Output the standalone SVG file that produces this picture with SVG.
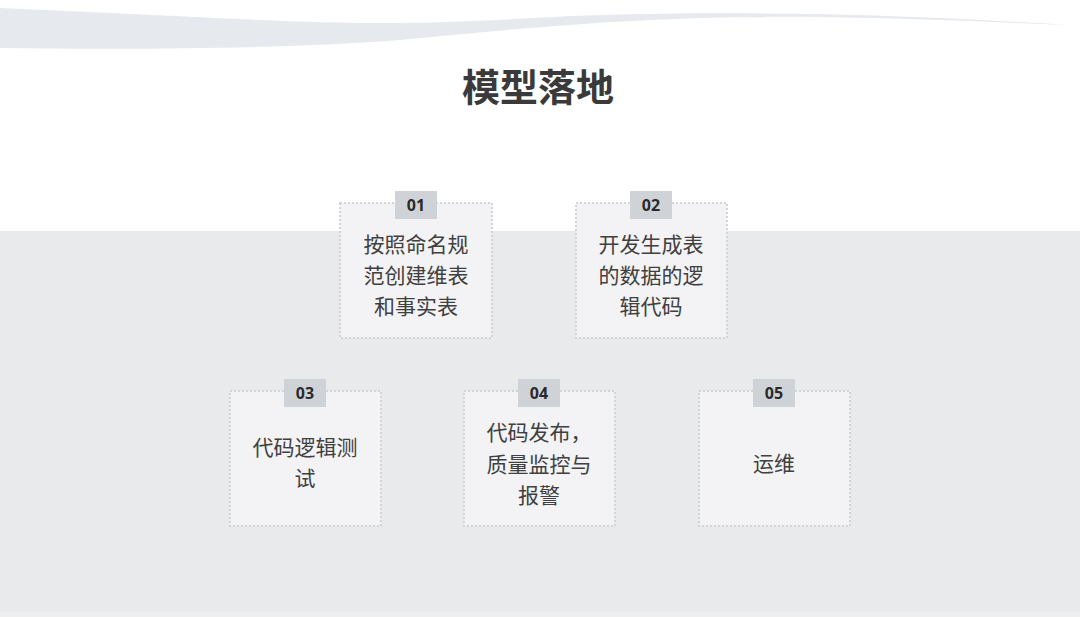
<svg xmlns="http://www.w3.org/2000/svg" width="1080" height="617" viewBox="0 0 1080 617">
<style>
.card{fill:#f3f3f5;stroke:#d2d5d8;stroke-width:2;stroke-dasharray:2 2}
.tag{fill:#cfd3d8}
.num{font-family:"Open Sans","Noto Sans",sans-serif;font-weight:700;font-size:16px;fill:#2a2a2a;text-anchor:middle}
.txt{font-family:"Noto Sans CJK SC","Noto Sans",sans-serif;font-size:21px;fill:#404040;text-anchor:middle}
.title{font-family:"Noto Sans CJK SC","Noto Sans",sans-serif;font-weight:700;font-size:38px;fill:#3a3a3a;text-anchor:middle}
</style>
<rect x="0" y="0" width="1080" height="617" fill="#ffffff"/>
<path d="M0,8 C150,14 300,24 400,23 C480,22 520,18 600,15 C750,11 900,14 1068,25 C900,18 800,15 700,18 C600,21 500,30 400,40 C300,48 150,50 0,48 Z" fill="#e6e9ee"/>
<rect x="0" y="231" width="1080" height="381" fill="#e8eaeb"/>
<rect x="0" y="612" width="1080" height="5" fill="#efefef"/>
<text class="title" x="538" y="101">模型落地</text>
<g id="connectors"></g>
<g id="node01">
<rect class="card" x="340" y="203" width="152" height="135"/>
<rect class="tag" x="395" y="191" width="42" height="28"/>
<text class="num" x="416" y="211">01</text>
<text class="txt" x="416" y="252">按照命名规</text>
<text class="txt" x="416" y="283">范创建维表</text>
<text class="txt" x="416" y="314">和事实表</text>
</g>
<g id="node02">
<rect class="card" x="576" y="203" width="151" height="135"/>
<rect class="tag" x="630" y="191" width="42" height="28"/>
<text class="num" x="651" y="211">02</text>
<text class="txt" x="651" y="252">开发生成表</text>
<text class="txt" x="651" y="283">的数据的逻</text>
<text class="txt" x="651" y="314">辑代码</text>
</g>
<g id="node03">
<rect class="card" x="230" y="391" width="151" height="135"/>
<rect class="tag" x="284" y="379" width="42" height="28"/>
<text class="num" x="305" y="399">03</text>
<text class="txt" x="305" y="455">代码逻辑测</text>
<text class="txt" x="305" y="486">试</text>
</g>
<g id="node04">
<rect class="card" x="464" y="391" width="151" height="135"/>
<rect class="tag" x="518" y="379" width="42" height="28"/>
<text class="num" x="539" y="399">04</text>
<text class="txt" x="539" y="440">代码发布，</text>
<text class="txt" x="539" y="472">质量监控与</text>
<text class="txt" x="539" y="503">报警</text>
</g>
<g id="node05">
<rect class="card" x="699" y="391" width="151" height="135"/>
<rect class="tag" x="753" y="379" width="42" height="28"/>
<text class="num" x="774" y="399">05</text>
<text class="txt" x="774" y="471">运维</text>
</g>
</svg>
